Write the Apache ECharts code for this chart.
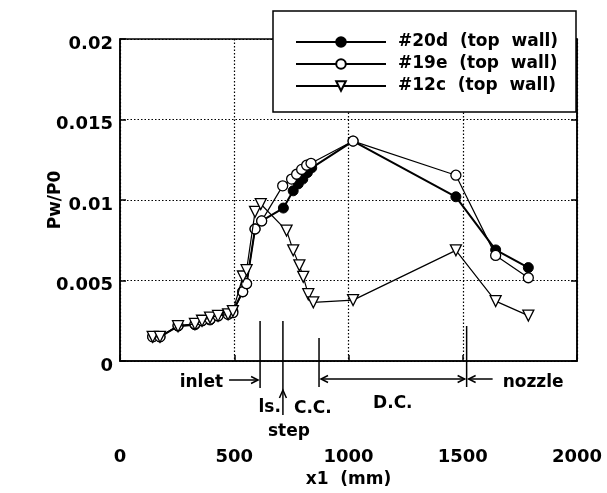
<!DOCTYPE html>
<html>
<head>
<meta charset="utf-8">
<script src="https://cdn.jsdelivr.net/npm/echarts@6/dist/echarts.min.js"></script>
<style>
  html, body { margin: 0; padding: 0; background: #fff; }
  #chart { width: 607px; height: 493px; }
</style>
</head>
<body>
<div id="chart"></div>
<script>
// Wall pressure ratio Pw/P0 along x1 (mm), three runs on the top wall
const names = ['#20d  (top  wall)', '#19e  (top  wall)', '#12c  (top  wall)'];

const x20d = [143, 175, 254, 328, 359, 394, 429, 473, 494, 537, 554, 591, 620, 715, 758, 780, 800, 820, 839, 1020, 1470, 1644, 1787];
const y20d = [0.0015, 0.0015, 0.00216, 0.00225, 0.0025, 0.00255, 0.0028, 0.0029, 0.0031, 0.0043, 0.0048, 0.0082, 0.0087, 0.0095, 0.01057, 0.011, 0.0113, 0.0117, 0.012, 0.01366, 0.0102, 0.0069, 0.0058];

const x19e = [143, 175, 254, 328, 359, 394, 429, 473, 494, 537, 554, 591, 620, 712, 751, 773, 795, 817, 836, 1020, 1470, 1644, 1787];
const y19e = [0.0015, 0.0015, 0.0022, 0.0023, 0.0025, 0.0026, 0.0028, 0.0029, 0.003, 0.0043, 0.0048, 0.0082, 0.0087, 0.01088, 0.0113, 0.0116, 0.0119, 0.01216, 0.01228, 0.01366, 0.01154, 0.00656, 0.00517];

const x12c = [143, 175, 254, 328, 359, 394, 429, 473, 494, 538, 554, 591, 616, 729, 758, 785, 802, 824, 846, 1020, 1470, 1644, 1787];
const y12c = [0.0015, 0.0015, 0.00216, 0.0023, 0.0025, 0.0027, 0.0028, 0.0029, 0.0031, 0.00525, 0.00564, 0.00926, 0.00975, 0.0081, 0.00687, 0.00594, 0.00523, 0.00415, 0.00364, 0.00378, 0.00687, 0.00372, 0.00282];

// Section boundaries along the duct (mm): inlet end, step, C.C./D.C. joint, nozzle start
const inletEnd = 613;
const stepPos = 713;
const dcStart = 871;
const nozzleStart = 1517;

const FONT = '"DejaVu Sans", sans-serif';
const zip = (xs, ys) => xs.map((v, i) => [v, ys[i]]);

const chart = echarts.init(document.getElementById('chart'), null, { renderer: 'canvas' });

const dotted = { color: '#000', width: 1.2, type: [1.5, 2] };

chart.setOption({
  animation: false,
  backgroundColor: '#fff',
  grid: { left: 120, right: 30, top: 39, bottom: 130, show: true, borderColor: '#000', borderWidth: 1.5, backgroundColor: 'transparent' },
  xAxis: {
    type: 'value', min: 0, max: 2000, interval: 500,
    name: 'x1  (mm)', nameLocation: 'middle', nameGap: 110, nameMoveOverlap: false,
    nameTextStyle: { fontFamily: FONT, fontSize: 17, fontWeight: 'bold', color: '#000' },
    axisLine: { show: true, lineStyle: { color: '#000', width: 1.5 } },
    axisTick: { show: true, inside: true, length: 6, lineStyle: { color: '#000', width: 1.5 } },
    axisLabel: { margin: 87, fontFamily: FONT, fontSize: 18, fontWeight: 'bold', color: '#000', formatter: (v) => String(v) },
    splitLine: { show: true, lineStyle: dotted }
  },
  yAxis: [{
    type: 'value', min: 0, max: 0.02, interval: 0.005,
    name: 'Pw/P0', nameLocation: 'middle', nameGap: 56, nameRotate: 90, nameMoveOverlap: false,
    nameTextStyle: { fontFamily: FONT, fontSize: 17, fontWeight: 'bold', color: '#000' },
    axisLine: { show: true, lineStyle: { color: '#000', width: 1.5 } },
    axisTick: { show: true, inside: true, length: 6, lineStyle: { color: '#000', width: 1.5 } },
    axisLabel: { margin: 7, fontFamily: FONT, fontSize: 18, fontWeight: 'bold', color: '#000', verticalAlign: 'top', lineHeight: 10, formatter: (v) => String(v) },
    splitLine: { show: true, lineStyle: dotted }
  }, {
    type: 'value', min: 0, max: 0.02, interval: 0.005, position: 'right',
    axisLine: { show: true, lineStyle: { color: '#000', width: 1.5 } },
    axisTick: { show: true, inside: true, length: 6, lineStyle: { color: '#000', width: 1.5 } },
    axisLabel: { show: false },
    splitLine: { show: false }
  }],
  legend: {
    orient: 'vertical', left: 295, top: 33, padding: 0, itemGap: 4,
    itemWidth: 90, itemHeight: 12,
    data: names,
    textStyle: { fontFamily: FONT, fontSize: 17, fontWeight: 'bold', lineHeight: 18, color: '#000', padding: [0, 0, 0, 7] },
    z: 5
  },
  series: [
    {
      name: names[0], type: 'line', data: zip(x20d, y20d),
      symbol: 'circle', symbolSize: 10,
      lineStyle: { color: '#000', width: 2 },
      itemStyle: { color: '#000', borderColor: '#000', borderWidth: 1 },
      z: 2
    },
    {
      name: names[1], type: 'line', data: zip(x19e, y19e),
      symbol: 'circle', symbolSize: 10, showAllSymbol: true,
      lineStyle: { color: '#000', width: 1.2 },
      itemStyle: { color: '#fff', borderColor: '#000', borderWidth: 1.3 },
      z: 3
    },
    {
      name: names[2], type: 'line', data: zip(x12c, y12c),
      symbol: 'path://M0,0L10,0L5,9Z', symbolSize: 11, showAllSymbol: true,
      lineStyle: { color: '#000', width: 1.2 },
      itemStyle: { color: '#fff', borderColor: '#000', borderWidth: 1.3 },
      z: 4
    }
  ]
});

// Section annotations below the axis, placed from the axis scale
const px = (v) => chart.convertToPixel({ gridIndex: 0 }, [v, 0])[0];
const base = chart.convertToPixel({ gridIndex: 0 }, [0, 0])[1];
const xi = px(inletEnd), xs = px(stepPos), xd = px(dcStart), xn = px(nozzleStart);

const stroke = { stroke: '#000', lineWidth: 1.5 };
const vline = (x, y1, y2) => ({ type: 'line', z: 6, shape: { x1: x, y1: y1, x2: x, y2: y2 }, style: stroke });
const hline = (x1, x2, y) => ({ type: 'line', z: 6, shape: { x1: x1, y1: y, x2: x2, y2: y }, style: stroke });
const head = (x, y, dir) => {
  // open arrowhead; dir: 'r', 'l', 'u'
  let pts;
  if (dir === 'r') pts = [[x - 7, y - 3.5], [x, y], [x - 7, y + 3.5]];
  else if (dir === 'l') pts = [[x + 7, y - 3.5], [x, y], [x + 7, y + 3.5]];
  else pts = [[x - 3.5, y + 8], [x, y], [x + 3.5, y + 8]];
  return { type: 'polyline', z: 6, shape: { points: pts }, style: { stroke: '#000', lineWidth: 1.5, fill: null } };
};
const label = (text, x, y, align) => ({
  type: 'text', z: 6, x: x, y: y,
  style: { text: text, fill: '#000', font: 'bold 17px ' + FONT, align: align, verticalAlign: 'middle' }
});

const ya = base + 18;
chart.setOption({
  graphic: [
    { type: 'rect', z: 3, shape: { x: 273, y: 11, width: 303, height: 101 }, style: { fill: '#fff', stroke: '#000', lineWidth: 1.5 } },
    vline(xi, base - 40, base + 27),
    vline(xs, base - 40, base + 54),
    vline(xd, base - 23, base + 26),
    vline(xn, base - 35, base + 26),
    hline(xi - 31, xi - 2, ya + 1), head(xi - 2, ya + 1, 'r'),
    hline(xd + 2, xn - 2, ya), head(xd + 2, ya, 'l'), head(xn - 2, ya, 'r'),
    hline(xn + 2, xn + 26, ya), head(xn + 2, ya, 'l'),
    head(xs, base + 29, 'u'),
    label('inlet', xi - 37, base + 22, 'right'),
    label('ls.', xs - 2, base + 47, 'right'),
    label('C.C.', xs + 11, base + 48, 'left'),
    label('step', xs + 6, base + 71, 'center'),
    label('D.C.', (xd + xn) / 2, base + 43, 'center'),
    label('nozzle', xn + 36, base + 22, 'left')
  ]
});
</script>
</body>
</html>
